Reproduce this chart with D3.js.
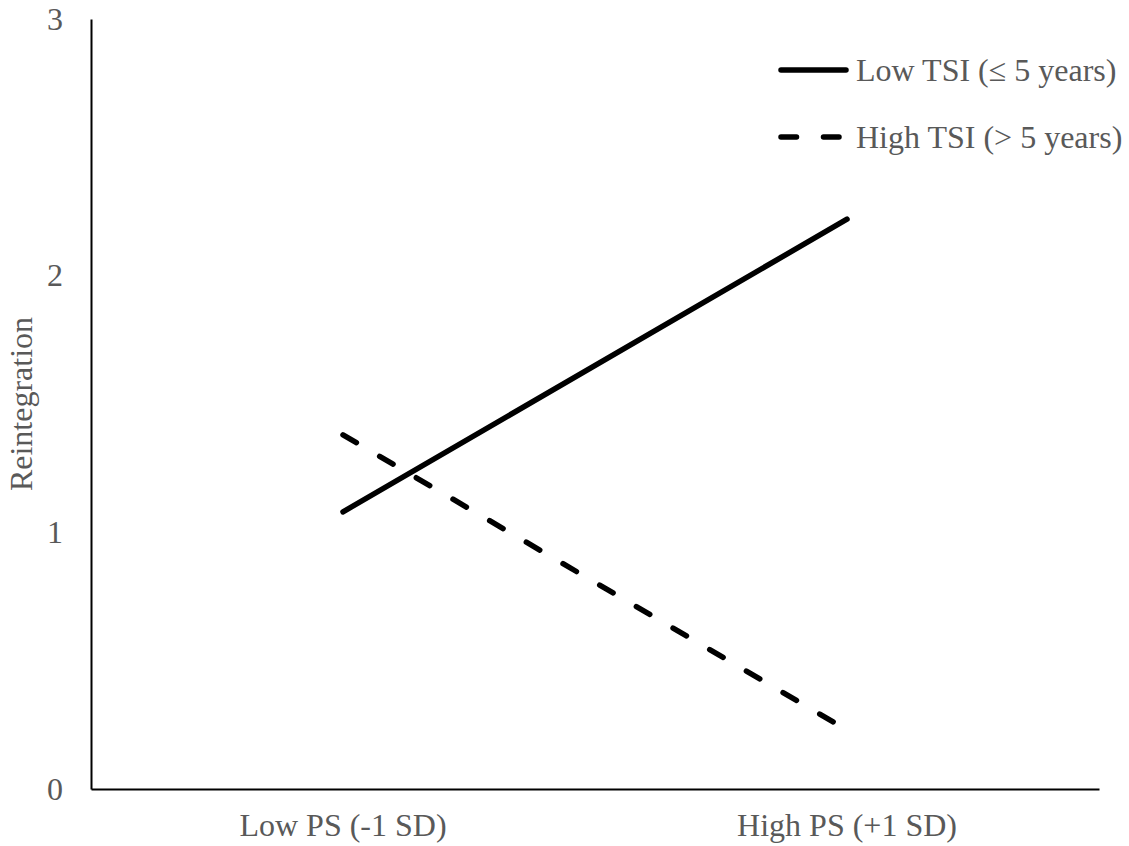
<!DOCTYPE html>
<html>
<head>
<meta charset="utf-8">
<script src="https://cdn.jsdelivr.net/npm/d3@7"></script>
<style>
  html, body { margin: 0; padding: 0; background: #fff; }
  svg text { font-family: "Liberation Serif", "Times New Roman", serif; fill: #595959; }
</style>
</head>
<body>
<svg id="chart" width="1129" height="846"></svg>
<script>
const categories = ["Low PS (-1 SD)", "High PS (+1 SD)"];
const seriesNames = ["Low TSI (\u2264 5 years)", "High TSI (> 5 years)"];
const lowTSI = [1.08, 2.22];
const highTSI = [1.38, 0.23];
const yTicks = [0, 1, 2, 3];
const yTitle = "Reintegration";

(function () {
const svg = d3.select("#chart");
const mLeft = 91, mRight = 1099, mTop = 19, mBottom = 789;
const fontSize = 32;

const x = d3.scaleBand().domain(categories).range([mLeft, mRight]).padding(0);
const y = d3.scaleLinear().domain([0, 3]).range([mBottom, mTop]);
const cx = c => x(c) + x.bandwidth() / 2;

// axes
const yAxis = d3.axisLeft(y).tickValues(yTicks).tickSize(0).tickPadding(28).tickFormat(d3.format("d"));
const gy = svg.append("g").attr("transform", `translate(${mLeft},0)`).call(yAxis);
gy.select(".domain").attr("stroke", "#000").attr("stroke-width", 2);
gy.selectAll("text").attr("font-size", fontSize).attr("fill", "#595959")
  .style("font-family", '"Liberation Serif", serif');

const xAxis = d3.axisBottom(x).tickSize(0).tickPadding(24);
const gx = svg.append("g").attr("transform", `translate(0,${mBottom})`).call(xAxis);
gx.select(".domain").attr("stroke", "#000").attr("stroke-width", 2);
gx.selectAll("text").attr("font-size", fontSize).attr("fill", "#595959")
  .style("font-family", '"Liberation Serif", serif');

// y title
svg.append("text")
  .attr("transform", `translate(32,${(mTop + mBottom) / 2}) rotate(-90)`)
  .attr("text-anchor", "middle")
  .attr("font-size", fontSize)
  .text(yTitle);

// lines
const line = d3.line().x(d => cx(d.c)).y(d => y(d.v));
const series = [
  { name: seriesNames[0], values: lowTSI, dash: null },
  { name: seriesNames[1], values: highTSI, dash: "15.5,27" }
];
series.forEach(s => {
  svg.append("path")
    .datum(categories.map((c, i) => ({ c, v: s.values[i] })))
    .attr("d", line)
    .attr("fill", "none")
    .attr("stroke", "#000")
    .attr("stroke-width", 5.5)
    .attr("stroke-linecap", "round")
    .attr("stroke-dasharray", s.dash);
});

// legend
const legY = [70, 137];
series.forEach((s, i) => {
  const g = svg.append("g").attr("transform", `translate(0,${legY[i]})`);
  g.append("line").attr("x1", 781).attr("x2", 846).attr("y1", 0).attr("y2", 0)
    .attr("stroke", "#000").attr("stroke-width", 5.5).attr("stroke-linecap", "round")
    .attr("stroke-dasharray", s.dash);
  g.append("text").attr("x", 856).attr("y", 0).attr("dy", "0.35em")
    .attr("font-size", fontSize).text(s.name);
});
})();
</script>
</body>
</html>
